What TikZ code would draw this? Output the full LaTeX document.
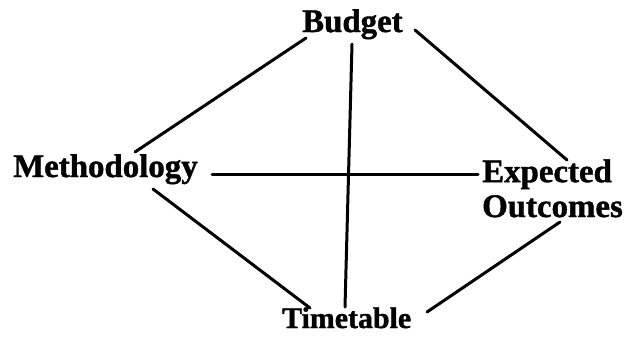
\documentclass[tikz,border=0pt]{standalone}
\usepackage{fontspec}
\setmainfont{Liberation Serif}
\newfontfamily\heavy{Liberation Serif Bold}[FakeBold=1.2]
\begin{document}
\begin{tikzpicture}[x=1bp,y=-1bp,
  lbl/.style={font=\fontsize{33}{35}\selectfont\heavy, inner sep=0pt, anchor=base west},
  link/.style={line width=3bp, line cap=round}]
\useasboundingbox (0,0) rectangle (630,342);
\node[lbl] (budget) at (302,32) {Budget};
\node[lbl] (meth) at (13,177) {Methodology};
\node[lbl, align=left] (exp) at (482,217) {Expected\\Outcomes};
\node[lbl, font=\fontsize{30}{35}\selectfont\heavy] (tim) at (282,328) {Timetable};
\draw[link] ([shift={(122,-25)}]meth.base west) -- ([shift={(4,6)}]budget.base west);
\draw[link] ([shift={(113,-2)}]budget.base west) -- ([shift={(85,-57)}]exp.base west);
\draw[link] ([shift={(199,-3)}]meth.base west) -- ([shift={(-4,-43)}]exp.base west);
\draw[link] ([shift={(50,12)}]budget.base west) -- ([shift={(63,-21)}]tim.base west);
\draw[link] ([shift={(140,12)}]meth.base west) -- ([shift={(28,-20)}]tim.base west);
\draw[link] ([shift={(78,5)}]exp.base west) -- ([shift={(145,-16)}]tim.base west);
\end{tikzpicture}
\end{document}
